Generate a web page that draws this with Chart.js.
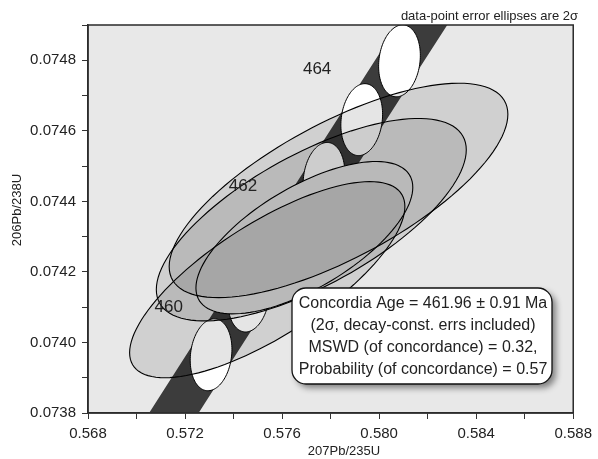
<!DOCTYPE html>
<html>
<head>
<meta charset="utf-8">
<script src="https://cdn.jsdelivr.net/npm/chart.js@4.4.1/dist/chart.umd.min.js"></script>
<style>
  html, body { margin: 0; padding: 0; background: #fff; }
  #wrap { width: 598px; height: 459px; }
</style>
</head>
<body>
<div id="wrap"><canvas id="chart" width="598" height="459"></canvas></div>
<script>
// concordia curve, age (Ma) -> 207Pb/235U, 206Pb/238U
const ages  = [458, 459, 460, 461, 462, 463, 464, 465, 466, 467];
const concX = [0.5699775, 0.5715245, 0.5730729, 0.5746229, 0.5761745, 0.5777275, 0.5792821, 0.5808383, 0.5823959, 0.5839551];
const concY = [0.0736320, 0.0737985, 0.0739651, 0.0741317, 0.0742984, 0.0744650, 0.0746317, 0.0747984, 0.0749651, 0.0751319];
const bandHalfWidth = 0.00102;   // decay-constant error band on 207/235

// white age markers on the concordia (2 sigma)
const markerAges = [460, 461, 462, 463, 464, 465];
const markerSx = 0.00086;
const markerSy = 0.000102;
const markerRho = 0.15;

// age labels
const ageLabels = ['460', '462', '464'];
const ageLabelX = [0.57074, 0.57380, 0.57686];
const ageLabelY = [0.074100, 0.074442, 0.074774];

// data-point error ellipses (2 sigma)
const ellX   = [0.575388, 0.577204, 0.578326];
const ellY   = [0.074178, 0.074348, 0.074431];
const ellSx  = [0.005673, 0.006388, 0.006980];
const ellSy  = [0.000278, 0.000287, 0.000304];
const ellRho = [0.745, 0.69, 0.71];

// weighted mean ellipse
const meanX = 0.576918, meanY = 0.074297, meanSx = 0.004469, meanSy = 0.000216, meanRho = 0.66;

const resultLines = [
  'Concordia Age = 461.96 \u00b1 0.91 Ma',
  '(2\u03c3, decay-const. errs included)',
  'MSWD (of concordance) = 0.32,',
  'Probability (of concordance) = 0.57'
];

const FONT = '"Liberation Sans", Arial, Helvetica, sans-serif';

function ellipsePath(ctx, chart, cx, cy, sx, sy, rho) {
  const xs = chart.scales.x, ys = chart.scales.y;
  const k = Math.sqrt(1 - rho * rho);
  ctx.beginPath();
  for (let i = 0; i <= 120; i++) {
    const t = i / 120 * Math.PI * 2;
    const x = cx + sx * Math.cos(t);
    const y = cy + sy * (rho * Math.cos(t) + k * Math.sin(t));
    const px = xs.getPixelForValue(x), py = ys.getPixelForValue(y);
    if (i === 0) ctx.moveTo(px, py); else ctx.lineTo(px, py);
  }
  ctx.closePath();
}

function roundRect(ctx, x, y, w, h, r) {
  ctx.beginPath();
  ctx.moveTo(x + r, y);
  ctx.arcTo(x + w, y, x + w, y + h, r);
  ctx.arcTo(x + w, y + h, x, y + h, r);
  ctx.arcTo(x, y + h, x, y, r);
  ctx.arcTo(x, y, x + w, y, r);
  ctx.closePath();
}

const concordiaPlugin = {
  id: 'concordia',
  beforeDraw(chart) {
    const ctx = chart.ctx, a = chart.chartArea;
    ctx.save();
    ctx.fillStyle = '#e8e8e8';
    ctx.fillRect(a.left, a.top, a.right - a.left, a.bottom - a.top);
    ctx.restore();
  },
  afterDatasetsDraw(chart) {
    const ctx = chart.ctx, a = chart.chartArea;
    const xs = chart.scales.x, ys = chart.scales.y;
    ctx.save();
    ctx.beginPath();
    ctx.rect(a.left, a.top, a.right - a.left, a.bottom - a.top);
    ctx.clip();

    // error band
    ctx.beginPath();
    for (let i = 0; i < ages.length; i++) {
      const px = xs.getPixelForValue(concX[i] - bandHalfWidth), py = ys.getPixelForValue(concY[i]);
      if (i === 0) ctx.moveTo(px, py); else ctx.lineTo(px, py);
    }
    for (let i = ages.length - 1; i >= 0; i--) {
      ctx.lineTo(xs.getPixelForValue(concX[i] + bandHalfWidth), ys.getPixelForValue(concY[i]));
    }
    ctx.closePath();
    ctx.fillStyle = '#3c3c3c';
    ctx.fill();

    // age markers
    ctx.lineWidth = 1;
    ctx.strokeStyle = '#000';
    markerAges.forEach(age => {
      const i = ages.indexOf(age);
      ellipsePath(ctx, chart, concX[i], concY[i], markerSx, markerSy, markerRho);
      ctx.fillStyle = '#fff';
      ctx.fill();
      ctx.stroke();
    });

    // mean ellipse (opaque base)
    ellipsePath(ctx, chart, meanX, meanY, meanSx, meanSy, meanRho);
    ctx.fillStyle = '#e6e6e6';
    ctx.fill();

    // data ellipses
    for (let i = 0; i < ellX.length; i++) {
      ellipsePath(ctx, chart, ellX[i], ellY[i], ellSx[i], ellSy[i], ellRho[i]);
      ctx.fillStyle = 'rgba(0,0,0,0.1)';
      ctx.fill();
    }
    ctx.lineWidth = 1.1;
    ellipsePath(ctx, chart, meanX, meanY, meanSx, meanSy, meanRho);
    ctx.stroke();
    for (let i = 0; i < ellX.length; i++) {
      ellipsePath(ctx, chart, ellX[i], ellY[i], ellSx[i], ellSy[i], ellRho[i]);
      ctx.stroke();
    }

    // age labels
    ctx.fillStyle = '#222';
    ctx.font = '17px ' + FONT;
    ctx.textAlign = 'left';
    ctx.textBaseline = 'middle';
    ageLabels.forEach((s, i) => {
      ctx.fillText(s, xs.getPixelForValue(ageLabelX[i]), ys.getPixelForValue(ageLabelY[i]));
    });
    ctx.restore();

    // frame
    ctx.save();
    ctx.strokeStyle = '#2a2a2a';
    ctx.lineWidth = 1.5;
    ctx.strokeRect(a.left, a.top, a.right - a.left, a.bottom - a.top);
    ctx.restore();

    // result box
    ctx.save();
    roundRect(ctx, 292, 288, 260, 96, 14);
    ctx.shadowColor = 'rgba(0,0,0,0.45)';
    ctx.shadowBlur = 6;
    ctx.shadowOffsetX = 4;
    ctx.shadowOffsetY = 4;
    ctx.fillStyle = '#fff';
    ctx.fill();
    ctx.shadowColor = 'transparent';
    ctx.lineWidth = 1.3;
    ctx.strokeStyle = '#111';
    ctx.stroke();
    ctx.fillStyle = '#222';
    ctx.font = '16px ' + FONT;
    ctx.textAlign = 'center';
    ctx.textBaseline = 'middle';
    resultLines.forEach((s, i) => ctx.fillText(s, 423, 304 + i * 22));
    ctx.restore();

    // notes and axis titles
    ctx.save();
    ctx.fillStyle = '#222';
    ctx.font = '13px ' + FONT;
    ctx.textAlign = 'right';
    ctx.textBaseline = 'middle';
    ctx.fillText('data-point error ellipses are 2\u03c3', 578, 16);
    ctx.textAlign = 'center';
    ctx.font = '13px ' + FONT;
    ctx.fillText('207Pb/235U', 344, 451);
    ctx.translate(17, 210);
    ctx.rotate(-Math.PI / 2);
    ctx.fillText('206Pb/238U', 0, 0);
    ctx.restore();
  }
};

new Chart(document.getElementById('chart'), {
  type: 'scatter',
  data: {
    datasets: [{
      data: ages.map((t, i) => ({ x: concX[i], y: concY[i] })),
      pointRadius: 0,
      showLine: false
    }]
  },
  options: {
    responsive: false,
    animation: false,
    devicePixelRatio: 1,
    layout: { padding: { left: 0, top: 25, right: 21, bottom: 0 } },
    plugins: { legend: { display: false }, tooltip: { enabled: false } },
    scales: {
      x: {
        type: 'linear',
        min: 0.568, max: 0.588,
        afterFit: s => { s.height = 46; },
        grid: { drawOnChartArea: false, drawTicks: true, tickLength: 6, color: '#333' },
        border: { display: true, color: '#333', width: 1.5 },
        ticks: {
          stepSize: 0.002, autoSkip: false, maxRotation: 0, padding: 6,
          color: '#222', font: { size: 15, family: FONT },
          callback: v => (Math.round(v * 1000) % 4 === 0 ? v.toFixed(3) : '')
        }
      },
      y: {
        type: 'linear',
        min: 0.0738, max: 0.0749,
        afterFit: s => { s.width = 88; },
        grid: { drawOnChartArea: false, drawTicks: true, tickLength: 6, color: '#333' },
        border: { display: true, color: '#333', width: 1.5 },
        ticks: {
          stepSize: 0.0001, autoSkip: false, padding: 6,
          color: '#222', font: { size: 15, family: FONT },
          callback: v => (Math.round(v * 10000) % 2 === 0 ? v.toFixed(4) : '')
        }
      }
    }
  },
  plugins: [concordiaPlugin]
});
</script>
</body>
</html>
